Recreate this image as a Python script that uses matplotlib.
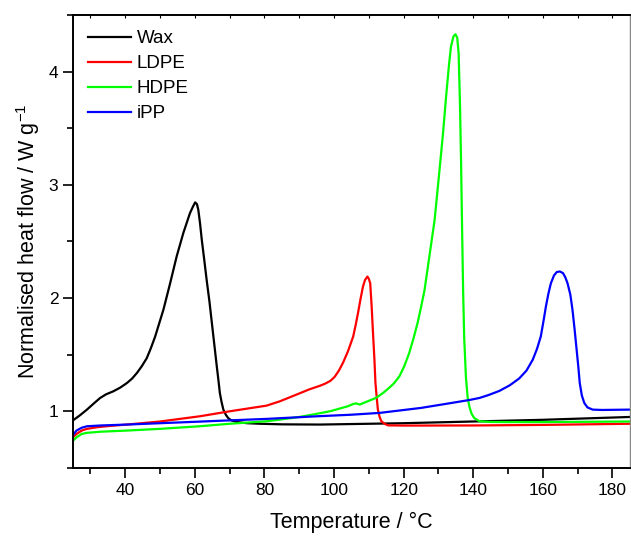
import matplotlib
matplotlib.use("Agg")
import matplotlib.pyplot as plt
from matplotlib.ticker import MultipleLocator

plt.rcParams['font.family'] = ['Liberation Sans', 'DejaVu Sans']

# ---- data ----
wax_T = [25, 27, 29, 31, 32.8, 34.5, 36.6, 38.6, 40.5, 42, 43.4, 44.8, 46.2, 47.4, 48.6, 49.8, 51.0, 52.9,
         54.8, 56.7, 58.6, 59.5, 60.1, 60.6, 61.0, 61.5, 62.0, 62.7, 63.4, 64.2, 64.9, 65.6, 66.3, 66.8,
         67.2, 67.7, 68.2, 68.9, 69.6, 70.5, 72, 75, 78.7, 85, 95.9, 110, 120, 139.9, 160, 185]
wax_v = [0.92, 0.965, 1.015, 1.07, 1.118, 1.15, 1.177, 1.21, 1.25, 1.29, 1.34, 1.40, 1.47, 1.56, 1.66,
         1.78, 1.90, 2.13, 2.37, 2.575, 2.75, 2.81, 2.845, 2.83, 2.78, 2.66, 2.515, 2.34, 2.16, 1.97,
         1.78, 1.59, 1.40, 1.27, 1.16, 1.08, 1.015, 0.97, 0.94, 0.92, 0.906, 0.895, 0.89, 0.885, 0.883,
         0.89, 0.895, 0.91, 0.925, 0.95]

ldpe_T = [25, 26, 27.5, 29, 32, 36, 40.5, 50, 61.4, 70, 80.6, 84.4, 90.2, 93, 95.9, 97.5, 99, 100.2,
          101.4, 102.6, 104, 105.5, 106.2, 106.9, 107.6, 108.3, 108.9, 109.6, 110.0, 110.4, 110.8, 111.2,
          111.6, 111.9, 112.3, 112.6, 113.1, 113.6, 114.5, 115.5, 120, 140, 160, 185]
ldpe_v = [0.77, 0.80, 0.83, 0.845, 0.86, 0.872, 0.883, 0.91, 0.956, 1.0, 1.05, 1.088, 1.16, 1.195, 1.225,
          1.245, 1.27, 1.305, 1.36, 1.43, 1.53, 1.66, 1.76, 1.87, 1.99, 2.10, 2.16, 2.19, 2.17, 2.13,
          1.93, 1.69, 1.46, 1.25, 1.11, 1.015, 0.95, 0.912, 0.89, 0.876, 0.874, 0.875, 0.88, 0.89]

hdpe_T = [25, 26, 27.5, 29, 33, 40.5, 50, 61.4, 70, 80.6, 84.4, 90, 94, 98.8, 101.7, 104, 105.5, 106.3,
          107.4, 109, 112.0, 114, 115.8, 117.3, 118.8, 120.2, 121.6, 122.8, 124.0, 125.0, 126.0, 127.4,
          128.9, 130.3, 131.3, 132.2, 133, 133.6, 134.3, 134.9, 135.4, 135.8, 136.2, 136.5, 136.8, 137.1,
          137.4, 137.9, 138.4, 138.9, 139.5, 140.3, 141.8, 145, 150, 160, 185]
hdpe_v = [0.74, 0.77, 0.80, 0.81, 0.82, 0.83, 0.845, 0.868, 0.89, 0.912, 0.927, 0.95, 0.972, 1.0, 1.025,
          1.045, 1.065, 1.07, 1.06, 1.08, 1.118, 1.16, 1.206, 1.25, 1.31, 1.40, 1.515, 1.64, 1.78, 1.92,
          2.07, 2.37, 2.69, 3.13, 3.45, 3.78, 4.05, 4.22, 4.31, 4.33, 4.30, 4.16, 3.70, 3.20, 2.60, 2.05,
          1.65, 1.30, 1.12, 1.04, 0.98, 0.94, 0.912, 0.906, 0.905, 0.905, 0.91]

ipp_T = [25, 26, 27.5, 29, 33, 40.5, 50, 61.4, 70, 80.6, 95, 105, 113.1, 125, 133, 138.9, 141.8, 144.5,
         147.5, 150.5, 153.2, 155.3, 157.1, 158.3, 159.4, 160.2, 160.9, 161.6, 162.3, 163.2, 164.0, 164.9,
         165.8, 166.5, 167.1, 167.9, 168.5, 169.1, 169.7, 170.2, 170.6, 171.2, 171.9, 172.8, 174.3, 177, 185]
ipp_v = [0.79, 0.83, 0.855, 0.868, 0.875, 0.883, 0.895, 0.909, 0.92, 0.933, 0.956, 0.97, 0.986, 1.03,
         1.07, 1.10, 1.118, 1.145, 1.18, 1.23, 1.29, 1.36, 1.456, 1.55, 1.66, 1.80, 1.93, 2.04, 2.13, 2.20,
         2.23, 2.235, 2.22, 2.18, 2.13, 2.03, 1.90, 1.73, 1.545, 1.39, 1.25, 1.14, 1.074, 1.035, 1.015,
         1.012, 1.015]

labels = ["Wax", "LDPE", "HDPE", "iPP"]
colors = ["#000000", "#FF0000", "#00FF00", "#0000FF"]
x_ticks = [40, 60, 80, 100, 120, 140, 160, 180]
y_ticks = [1, 2, 3, 4]

fig = plt.figure(figsize=(6.31, 5.36), dpi=100)
ax = fig.add_axes([0.1157, 0.127, 0.8825, 0.845])

for T, v, lab, c in zip([wax_T, ldpe_T, hdpe_T, ipp_T], [wax_v, ldpe_v, hdpe_v, ipp_v], labels, colors):
    ax.plot(T, v, color=c, lw=1.6, label=lab, solid_joinstyle='round')

ax.set_xlim(25, 185)
ax.set_ylim(0.5, 4.5)
ax.set_xticks(x_ticks)
ax.set_yticks(y_ticks)
ax.xaxis.set_minor_locator(MultipleLocator(10))
ax.yaxis.set_minor_locator(MultipleLocator(0.5))

ax.tick_params(axis='both', which='major', direction='out', length=7, width=1.2, labelsize=12.5,
               top=False, right=False)
ax.tick_params(axis='both', which='minor', direction='out', length=4, width=1.2, top=False, right=False)

for s in ['left', 'bottom', 'top']:
    ax.spines[s].set_linewidth(1.4)
ax.spines['right'].set_color('#888888')
ax.spines['right'].set_linewidth(1.0)

# small inward ticks on the top spine
sec = ax.secondary_xaxis('top')
sec.set_xticks(x_ticks)
sec.xaxis.set_minor_locator(MultipleLocator(10))
sec.tick_params(which='both', direction='in', length=2, width=0.8, labeltop=False)
sec.spines['top'].set_visible(False)

ax.set_xlabel("Temperature / °C", fontsize=15.5, labelpad=10)
ax.set_ylabel("Normalised heat flow / W g$^{\\mathregular{-1}}$", fontsize=15.5, labelpad=5)

leg = ax.legend(loc='upper left', bbox_to_anchor=(0.0, 1.0), frameon=False, fontsize=13.5,
                handlelength=2.3, handletextpad=0.3, labelspacing=0.42, borderaxespad=0.4)

fig.savefig("out.png", dpi=100)
